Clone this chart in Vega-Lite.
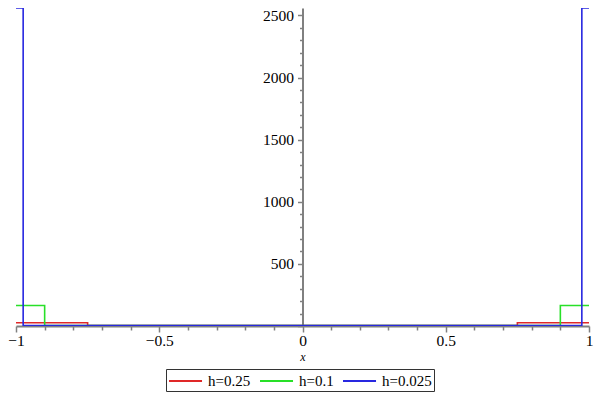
{
  "$schema": "https://vega.github.io/schema/vega-lite/v6.json",
  "width": 573,
  "height": 318,
  "autosize": "none",
  "padding": {"left": 16, "top": 8, "right": 11, "bottom": 74},
  "background": "white",
  "config": {"view": {"stroke": null}},
  "data": {
    "values": [
      {"s": "h=0.25", "i": 0, "x": -1, "y": 26},
      {"s": "h=0.25", "i": 1, "x": -0.75, "y": 26},
      {"s": "h=0.25", "i": 2, "x": -0.75, "y": 4},
      {"s": "h=0.25", "i": 3, "x": 0.75, "y": 4},
      {"s": "h=0.25", "i": 4, "x": 0.75, "y": 26},
      {"s": "h=0.25", "i": 5, "x": 1, "y": 26},
      {"s": "h=0.1", "i": 0, "x": -1, "y": 165},
      {"s": "h=0.1", "i": 1, "x": -0.9, "y": 165},
      {"s": "h=0.1", "i": 2, "x": -0.9, "y": 4},
      {"s": "h=0.1", "i": 3, "x": 0.9, "y": 4},
      {"s": "h=0.1", "i": 4, "x": 0.9, "y": 165},
      {"s": "h=0.1", "i": 5, "x": 1, "y": 165},
      {"s": "h=0.025", "i": 0, "x": -1, "y": 2560},
      {"s": "h=0.025", "i": 1, "x": -0.975, "y": 2560},
      {"s": "h=0.025", "i": 2, "x": -0.975, "y": 4},
      {"s": "h=0.025", "i": 3, "x": 0.975, "y": 4},
      {"s": "h=0.025", "i": 4, "x": 0.975, "y": 2560},
      {"s": "h=0.025", "i": 5, "x": 1, "y": 2560}
    ]
  },
  "mark": {"type": "line", "strokeWidth": 1.6, "clip": true},
  "encoding": {
    "x": {
      "field": "x",
      "type": "quantitative",
      "scale": {"domain": [-1, 1], "nice": false},
      "axis": {
        "title": "x",
        "titleFont": "Liberation Serif",
        "titleFontStyle": "italic",
        "titleFontWeight": "normal",
        "titleFontSize": 12,
        "titleColor": "black",
        "titlePadding": 3,
        "values": [-1, -0.9, -0.8, -0.7, -0.6, -0.5, -0.4, -0.3, -0.2, -0.1, 0, 0.1, 0.2, 0.3, 0.4, 0.5, 0.6, 0.7, 0.8, 0.9, 1],
        "labelExpr": "datum.value == -1 ? '−1' : datum.value == -0.5 ? '−0.5' : datum.value == 0 ? '0' : datum.value == 0.5 ? '0.5' : datum.value == 1 ? '1' : ''",
        "labelFont": "Liberation Serif",
        "labelFontSize": 15.5,
        "labelColor": "black",
        "labelPadding": 1,
        "labelOverlap": false,
        "labelBound": false,
        "labelFlush": false,
        "grid": false,
        "domainColor": "#808080",
        "domainWidth": 2,
        "tickColor": "#808080",
        "tickWidth": 1.5,
        "tickSize": {"condition": {"test": "abs(datum.value*2 - round(datum.value*2)) < 0.000001", "value": 6}, "value": 4}
      }
    },
    "y": {
      "field": "y",
      "type": "quantitative",
      "scale": {"domain": [0, 2560], "nice": false, "zero": true},
      "axis": {
        "title": null,
        "offset": -286.5,
        "values": [0, 100, 200, 300, 400, 500, 600, 700, 800, 900, 1000, 1100, 1200, 1300, 1400, 1500, 1600, 1700, 1800, 1900, 2000, 2100, 2200, 2300, 2400, 2500],
        "labelExpr": "datum.value > 0 && datum.value % 500 == 0 ? format(datum.value, 'd') : ''",
        "labelFont": "Liberation Serif",
        "labelFontSize": 15.5,
        "labelColor": "black",
        "labelPadding": 4,
        "labelOverlap": false,
        "labelBound": false,
        "labelFlush": false,
        "grid": false,
        "domainColor": "#808080",
        "domainWidth": 2,
        "tickColor": "#808080",
        "tickWidth": 1.5,
        "tickSize": {"condition": {"test": "datum.value % 500 == 0", "value": 5}, "value": 3}
      }
    },
    "color": {
      "field": "s",
      "type": "nominal",
      "scale": {"domain": ["h=0.25", "h=0.1", "h=0.025"], "range": ["#e02828", "#28e028", "#2828e0"]},
      "legend": {
        "title": null,
        "orient": "none",
        "legendX": 150,
        "legendY": 361,
        "direction": "horizontal",
        "symbolType": "M-1,0H2.67",
        "symbolSize": 324,
        "symbolStrokeWidth": 2,
        "symbolFillColor": "transparent",
        "labelFont": "Liberation Serif",
        "labelFontSize": 15,
        "labelColor": "black",
        "strokeColor": "#333333",
        "padding": 2,
        "columnPadding": 5,
        "labelOffset": 20
      }
    },
    "detail": {"field": "s"},
    "order": {"field": "i", "type": "quantitative"}
  }
}
